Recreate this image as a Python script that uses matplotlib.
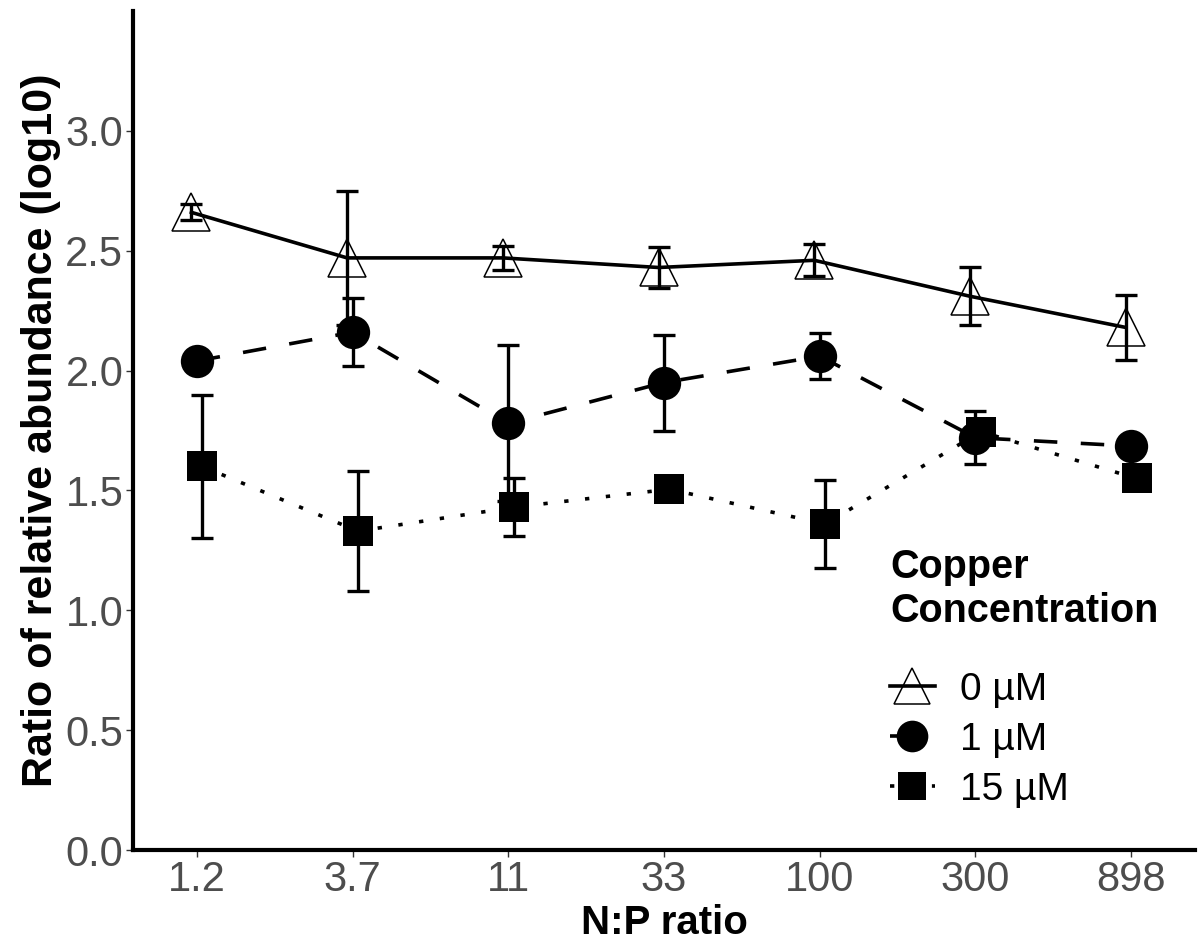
import numpy as np
import matplotlib
matplotlib.use('Agg')
import matplotlib.pyplot as plt

plt.rcParams['font.family'] = ['Liberation Sans', 'DejaVu Sans']

# 数据
np_ratio = ['1.2', '3.7', '11', '33', '100', '300', '898']
copper_labels = ['0 µM', '1 µM', '15 µM']

cu0_mean = [2.66, 2.47, 2.47, 2.43, 2.46, 2.31, 2.18]
cu0_se = [0.033, 0.28, 0.05, 0.085, 0.067, 0.12, 0.135]
cu1_mean = [2.04, 2.16, 1.78, 1.95, 2.06, 1.72, 1.685]
cu1_se = [0.04, 0.143, 0.325, 0.20, 0.097, 0.11, 0.03]
cu15_mean = [1.60, 1.33, 1.43, 1.505, 1.36, 1.745, 1.55]
cu15_se = [0.30, 0.25, 0.12, 0.04, 0.185, 0.04, 0.03]

means = [cu0_mean, cu1_mean, cu15_mean]
errs = [cu0_se, cu1_se, cu15_se]

# 样式
styles = [
    dict(marker='^', ms=28, mfc='none', mec='black', mew=1.1, ls='-'),
    dict(marker='o', ms=24, mfc='black', mec='black', mew=0, ls=(0, (6.5, 6.5))),
    dict(marker='s', ms=21.5, mfc='black', mec='black', mew=0, ls=(0, (1.2, 4.6))),
]
dodge = [-0.035, 0.0, 0.035]

W, H = 1199, 947
fig = plt.figure(figsize=(W / 100, H / 100), dpi=100)
ax = fig.add_axes([133 / W, (H - 850) / H, (1195 - 133) / W, (850 - 11) / H])

x = np.arange(len(np_ratio))
handles = []
for i in range(3):
    xi = x + dodge[i]
    st = styles[i]
    ax.plot(xi, means[i], color='black', lw=2.6, ls=st['ls'],
            dash_capstyle='butt', zorder=2)
    ax.plot(xi, means[i], ls='none', marker=st['marker'], ms=st['ms'],
            mfc=st['mfc'], mec=st['mec'], mew=st['mew'], zorder=3)
    ax.errorbar(xi, means[i], yerr=errs[i], fmt='none', ecolor='black',
                elinewidth=2.4, capsize=8, capthick=2.4, zorder=4)
    h, = ax.plot([], [], color='black', lw=2.6, ls=st['ls'], dash_capstyle='butt',
                 marker=st['marker'], ms=st['ms'] * 0.95, mfc=st['mfc'],
                 mec=st['mec'], mew=st['mew'])
    handles.append(h)

ax.set_xlim(-0.41, 6.41)
ax.set_ylim(0, 3.5)
ax.set_xticks(x)
ax.set_xticklabels(np_ratio)
ax.set_yticks([0, 0.5, 1.0, 1.5, 2.0, 2.5, 3.0])
ax.set_yticklabels(['0.0', '0.5', '1.0', '1.5', '2.0', '2.5', '3.0'])

for s in ['top', 'right']:
    ax.spines[s].set_visible(False)
for s in ['left', 'bottom']:
    ax.spines[s].set_linewidth(3)
    ax.spines[s].set_color('black')
ax.tick_params(axis='both', length=5, width=1, color='#333333',
               labelsize=30, labelcolor='#4D4D4D', pad=2)

ax.set_xlabel('N:P ratio', fontsize=29, fontweight='bold', labelpad=3)
ax.set_ylabel('Ratio of relative abundance (log10)', fontsize=31,
              fontweight='bold', labelpad=3)

leg = ax.legend(handles, copper_labels, title='Copper\nConcentration',
                loc='upper left', bbox_to_anchor=(890 / W, 1 - 548 / H),
                bbox_transform=fig.transFigure, frameon=False, fontsize=28,
                title_fontproperties={'weight': 'bold', 'size': 28.5},
                handlelength=1.15, handletextpad=0.65, labelspacing=0.36,
                borderpad=0, borderaxespad=0)
leg._legend_box.align = 'left'
leg._legend_box.sep = 30

plt.savefig('out.png', dpi=100, facecolor='white')
plt.close()
